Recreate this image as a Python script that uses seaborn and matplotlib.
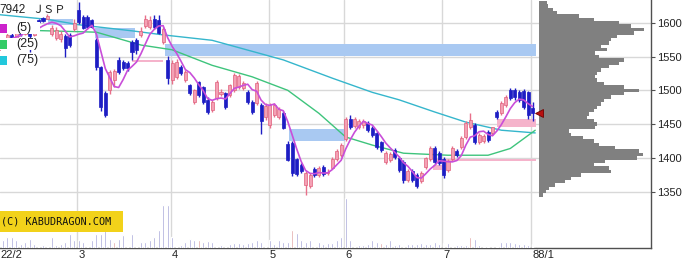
import numpy as np
import pandas as pd
import matplotlib
matplotlib.use("Agg")
import matplotlib.pyplot as plt
import seaborn as sns
from matplotlib.patches import Rectangle
from matplotlib.transforms import blended_transform_factory

# ---------------- data ----------------
opens = [1560, 1575, 1570, 1582, 1578, 1588, 1584, 1590, 1582, 1604,
         1607, 1606, 1583, 1577, 1576, 1580, 1582, 1590, 1619, 1608,
         1609, 1604, 1575, 1534, 1496, 1500, 1515, 1545, 1542, 1541,
         1571, 1574, 1582, 1595, 1593, 1606, 1604, 1572, 1545, 1515,
         1520, 1535, 1515, 1508, 1483, 1512, 1505, 1486, 1471, 1489,
         1495, 1496, 1493, 1500, 1505, 1503, 1498, 1483, 1481, 1478,
         1460, 1448, 1464, 1460, 1466, 1420, 1422, 1398, 1389, 1360,
         1358, 1384, 1375, 1386, 1378, 1385, 1399, 1404, 1428, 1458,
         1447, 1446, 1448, 1452, 1444, 1437, 1423, 1394, 1397, 1412,
         1400, 1394, 1368, 1380, 1375, 1366, 1387, 1398, 1414, 1408,
         1398, 1382, 1399, 1410, 1416, 1431, 1446, 1449, 1424, 1425,
         1438, 1437, 1468, 1466, 1478, 1500, 1500, 1497, 1499, 1497,
         1474]
closes = [1575, 1570, 1582, 1578, 1590, 1584, 1595, 1580, 1598, 1601,
          1603, 1610, 1592, 1589, 1584, 1563, 1567, 1600, 1601, 1592,
          1594, 1594, 1534, 1475, 1464, 1527, 1528, 1527, 1533, 1533,
          1556, 1560, 1588, 1606, 1604, 1593, 1585, 1590, 1518, 1540,
          1542, 1526, 1527, 1496, 1500, 1493, 1482, 1468, 1483, 1512,
          1498, 1475, 1508, 1522, 1521, 1511, 1483, 1468, 1511, 1455,
          1477, 1478, 1478, 1472, 1444, 1397, 1378, 1376, 1380, 1377,
          1375, 1375, 1385, 1376, 1379, 1399, 1410, 1419, 1458, 1446,
          1457, 1455, 1455, 1442, 1434, 1416, 1412, 1407, 1406, 1402,
          1382, 1368, 1380, 1367, 1358, 1378, 1400, 1415, 1394, 1392,
          1375, 1396, 1414, 1404, 1429, 1451, 1456, 1424, 1434, 1433,
          1427, 1446, 1460, 1481, 1490, 1488, 1490, 1486, 1475, 1463,
          1466]
highs = [1580, 1578, 1585, 1585, 1593, 1590, 1598, 1592, 1600, 1606,
         1609, 1613, 1597, 1593, 1588, 1583, 1585, 1606, 1631, 1611,
         1612, 1606, 1577, 1536, 1499, 1530, 1532, 1549, 1545, 1543,
         1574, 1577, 1593, 1612, 1610, 1612, 1612, 1594, 1551, 1545,
         1546, 1538, 1530, 1510, 1502, 1514, 1507, 1490, 1486, 1516,
         1502, 1498, 1510, 1526, 1524, 1514, 1500, 1486, 1514, 1481,
         1481, 1481, 1481, 1475, 1470, 1425, 1425, 1400, 1392, 1381,
         1378, 1387, 1388, 1389, 1383, 1401, 1413, 1422, 1461, 1463,
         1460, 1458, 1458, 1455, 1447, 1440, 1425, 1410, 1409, 1415,
         1403, 1397, 1383, 1383, 1378, 1381, 1401, 1418, 1417, 1411,
         1401, 1399, 1417, 1413, 1432, 1454, 1466, 1452, 1437, 1436,
         1441, 1446, 1471, 1484, 1493, 1503, 1503, 1501, 1502, 1499,
         1482]
lows = [1530, 1565, 1568, 1574, 1576, 1580, 1582, 1556, 1580, 1599,
        1601, 1605, 1580, 1574, 1572, 1549, 1564, 1588, 1598, 1590,
        1591, 1592, 1530, 1470, 1461, 1495, 1505, 1524, 1530, 1528,
        1545, 1553, 1579, 1592, 1590, 1590, 1583, 1568, 1510, 1510,
        1517, 1523, 1512, 1493, 1480, 1490, 1480, 1465, 1468, 1486,
        1492, 1472, 1490, 1498, 1502, 1500, 1480, 1465, 1478, 1435,
        1456, 1444, 1460, 1457, 1443, 1395, 1373, 1373, 1377, 1345,
        1355, 1372, 1372, 1373, 1375, 1383, 1396, 1401, 1425, 1443,
        1444, 1443, 1445, 1439, 1431, 1413, 1409, 1391, 1394, 1399,
        1379, 1363, 1365, 1364, 1355, 1363, 1384, 1395, 1391, 1389,
        1371, 1379, 1396, 1401, 1413, 1428, 1443, 1421, 1421, 1422,
        1424, 1434, 1458, 1463, 1475, 1485, 1486, 1483, 1472, 1458,
        1455]
volumes = [80, 77, 110, 110, 77, 43, 60, 93, 43, 37,
           33, 27, 110, 27, 43, 60, 143, 77, 77, 60,
           43, 77, 143, 143, 193, 93, 60, 93, 127, 77,
           143, 127, 60, 60, 77, 110, 177, 427, 427, 110,
           77, 27, 60, 93, 83, 83, 60, 70, 60, 60,
           27, 17, 37, 50, 50, 43, 50, 60, 77, 60,
           177, 83, 43, 77, 60, 60, 183, 150, 83, 60,
           83, 77, 60, 43, 50, 50, 77, 110, 503, 77,
           27, 27, 27, 37, 77, 60, 50, 37, 77, 27,
           43, 83, 43, 43, 37, 50, 43, 37, 60, 43,
           50, 53, 27, 27, 33, 33, 110, 93, 27, 10,
           10, 10, 10, 60, 60, 60, 50, 37, 43, 27,
           43]
vol_pink_days = [26, 45, 66, 86, 106]

ma25_days = [0, 11, 22, 32, 39, 48, 57, 65, 72, 78, 84, 91, 101, 110, 115, 120.6]
ma25_vals = [1590, 1588, 1586, 1567, 1560, 1537, 1520, 1500, 1466, 1431, 1419,
             1407, 1404, 1404, 1414, 1441]
ma75_days = [0, 11, 18, 30, 37, 48, 64, 75, 84, 90, 98, 105, 113, 120.6]
ma75_vals = [1612, 1605, 1597, 1588, 1582, 1574, 1545, 1518, 1497, 1486, 1468,
             1453, 1441, 1437]

profile_prices = [1630, 1625, 1620, 1615, 1610, 1605, 1600, 1595, 1590, 1585,
                  1580, 1575, 1570, 1565, 1560, 1555, 1550, 1545, 1540, 1535,
                  1530, 1525, 1520, 1515, 1510, 1505, 1500, 1495, 1490, 1485,
                  1480, 1475, 1470, 1465, 1460, 1455, 1450, 1445, 1440, 1435,
                  1430, 1425, 1420, 1415, 1410, 1405, 1400, 1395, 1390, 1385,
                  1380, 1375, 1370, 1365, 1360, 1355, 1350, 1345]
profile_volume = [8, 9, 14, 18, 40, 55, 80, 92, 105, 95,
                  78, 72, 70, 62, 68, 56, 60, 85, 80, 70,
                  62, 58, 56, 58, 65, 85, 100, 85, 72, 65,
                  62, 58, 55, 50, 48, 55, 58, 56, 30, 32,
                  44, 55, 60, 76, 100, 104, 98, 66, 55, 70,
                  72, 42, 32, 26, 16, 10, 7, 4]

gap_start = [11.1, 21.7, 30.0, 37.4, 65.3, 112.0, 97.6, 97.6]
gap_end = [16.7, 30.7, 37.0, 120.8, 77.9, 120.8, 120.8, 99.9]
gap_low = [1597, 1577, 1542, 1551, 1425, 1446, 1396, 1382]
gap_high = [1605, 1592, 1545, 1568, 1443, 1458, 1399, 1389]
gap_kind = ["down", "down", "up", "down", "down", "up", "up", "up"]

month_starts = [18, 39, 61, 78, 100, 120]
month_labels = ["3", "4", "5", "6", "7", "88/1"]
first_label = "22/2"
price_ticks = [1350, 1400, 1450, 1500, 1550, 1600]

code_label = "7942"
name_label = "ＪＳＰ"
ma_labels = ["(5)", "(25)", "(75)"]
copyright_text = "(C) KABUDRAGON.COM"

# ---------------- style ----------------
sns.set_theme(style="white")
plt.rcParams['font.family'] = ['Liberation Sans', 'DejaVu Sans']

W, H = 691, 258
fig = plt.figure(figsize=(W / 100, H / 100), dpi=100)
fig.patch.set_facecolor("white")


def fx(px):
    return px / W


def fy(py):
    return 1 - py / H


ax = fig.add_axes([0, fy(248), fx(537), 248 / H])
axp = fig.add_axes([fx(537), fy(248), fx(114), 248 / H])

XMIN, XMAX = 0.34, 121.0
YMIN, YMAX = 1266.8, 1633.6
ax.set_xlim(XMIN, XMAX)
ax.set_ylim(YMIN, YMAX)
axp.set_ylim(YMIN, YMAX)
axp.set_xlim(-2, 112)

GRID = "#d8d8d8"
for p in price_ticks:
    ax.axhline(p, color=GRID, lw=1.0, zorder=0)
    axp.axhline(p, color=GRID, lw=1.0, zorder=0)
for m in month_starts:
    ax.axvline(m - 0.3, color=GRID, lw=1.0, zorder=0)

# gap (window) bands
for s, e, lo, hi, k in zip(gap_start, gap_end, gap_low, gap_high, gap_kind):
    col = "#a9c9f2" if k == "down" else "#f5b3cb"
    ax.add_patch(Rectangle((s, lo), e - s, hi - lo, facecolor=col,
                           edgecolor="none", zorder=1))

idx = np.arange(len(closes))
o = np.array(opens, float)
c = np.array(closes, float)
hi_ = np.array(highs, float)
lo_ = np.array(lows, float)
up = c >= o

# moving averages
ma5 = pd.Series(c).rolling(5, min_periods=1).mean()
sns.lineplot(x=ma75_days, y=ma75_vals, ax=ax, color="#35b6cc", lw=1.0,
             zorder=3, legend=False)
sns.lineplot(x=ma25_days, y=ma25_vals, ax=ax, color="#3ec47c", lw=1.0,
             zorder=3, legend=False)

# candles
wick_col = np.where(up, "#e8708a", "#1d1dc4")
fill_col = np.where(up, "#f4a0b4", "#1d1dc4")
edge_col = np.where(up, "#e0607c", "#1d1dc4")
ax.vlines(idx, lo_, hi_, colors=wick_col, lw=1.0, zorder=4)
ax.bar(idx, np.maximum(np.abs(c - o), 1.5), bottom=np.minimum(o, c),
       width=0.68, color=fill_col, edgecolor=edge_col, lw=0.5, zorder=5)

sns.lineplot(x=idx, y=ma5.values, ax=ax, color="#c94ed9", lw=1.2,
             zorder=6, legend=False)

ax.set_xlabel("")
ax.set_ylabel("")

# volume
axv = ax.twinx()
axv.set_ylim(0, 2480)
axv.set_xlim(XMIN, XMAX)
vcol = ["#de9a9a" if i in vol_pink_days else "#9c9cd4" for i in idx]
axv.bar(idx, volumes, width=0.42, color=vcol, zorder=1)
axv.axis("off")

# spines / ticks
for s in ("top", "left", "right"):
    ax.spines[s].set_visible(False)
ax.spines["bottom"].set_color("#505050")
ax.spines["bottom"].set_linewidth(1.0)
ax.set_xticks([])
ax.set_yticks([])

# volume profile
axp.barh(profile_prices, profile_volume, height=5, color="#808080",
         edgecolor="none", zorder=2)
for s in ("top", "left"):
    axp.spines[s].set_visible(False)
for s in ("right", "bottom"):
    axp.spines[s].set_color("#505050")
    axp.spines[s].set_linewidth(1.0)
axp.yaxis.tick_right()
axp.set_yticks(price_ticks)
axp.set_yticklabels([str(p) for p in price_ticks])
axp.tick_params(axis="y", length=3, width=0.8, color="#505050",
                labelsize=8, pad=1.5, labelcolor="#222222")
axp.set_xticks([])
axp.set_xlabel("")
axp.set_ylabel("")
axp.plot([-0.3], [closes[-1]], marker="<", ms=6, color="#b81010",
         mec="#700000", mew=0.6, clip_on=False, zorder=6, ls="none")

# month labels
trans = blended_transform_factory(ax.transData, fig.transFigure)
fig.text(fx(0.5), fy(249.5), first_label, ha="left", va="top", fontsize=8,
         color="#222222")
for m, lab in zip(month_starts, month_labels):
    ax.text(m - 0.1, fy(249.5), lab, ha="left", va="top", fontsize=8,
            transform=trans, clip_on=False, color="#222222")

# title + legend
fig.text(fx(-1), fy(10), code_label, ha="left", va="center", fontsize=8.5,
         color="#222222")
fig.text(fx(32), fy(10), name_label, ha="left", va="center", fontsize=8,
         color="#222222", family=["Noto Sans CJK JP", "DejaVu Sans"])
sq_cols = ["#cc22cc", "#33cc66", "#22c8dc"]
row_y = [28, 44, 60]
for col, lab, yy in zip(sq_cols, ma_labels, row_y):
    fig.patches.append(Rectangle((fx(0), fy(yy + 6)), fx(40), 12 / H,
                                 transform=fig.transFigure, facecolor="white",
                                 edgecolor="none", zorder=1))
    fig.patches.append(Rectangle((fx(0), fy(yy + 4.5)), fx(7), 9 / H,
                                 transform=fig.transFigure, facecolor=col,
                                 edgecolor="none", zorder=2))
    fig.text(fx(16), fy(yy), lab, ha="left", va="center", fontsize=9,
             color="#222222", zorder=3)

# copyright box
fig.patches.append(Rectangle((fx(0), fy(232)), fx(123), 21 / H,
                             transform=fig.transFigure, facecolor="#f2d21a",
                             edgecolor="none", zorder=1))
fig.text(fx(1), fy(222), copyright_text, ha="left", va="center", fontsize=7.3,
         family=["DejaVu Sans Mono"], color="#111111", zorder=3)

fig.savefig("out.png", dpi=100, facecolor="white")
